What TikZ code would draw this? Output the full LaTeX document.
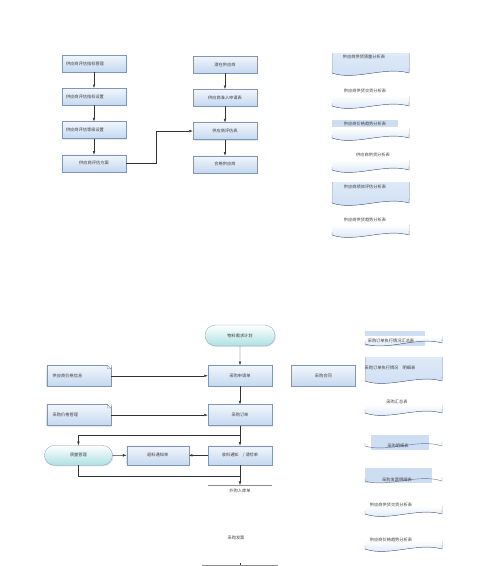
\documentclass[tikz,border=0pt]{standalone}
\usepackage{fontspec}
\newfontfamily\cjk{Noto Sans CJK SC}
\usetikzlibrary{arrows.meta, chains, positioning, shapes.misc, shadows}
\definecolor{boxtop}{RGB}{242,246,252}
\definecolor{boxbot}{RGB}{196,216,240}
\definecolor{boxline}{RGB}{128,150,185}
\definecolor{tealbot}{RGB}{172,224,226}
\definecolor{rptfill}{RGB}{205,222,243}
\definecolor{wavecol}{RGB}{105,120,158}

\begin{document}
\begin{tikzpicture}[x=0.5mm, y=-0.5mm, node distance = 8mm and 9.5mm,
	font=\cjk\fontsize{6}{7}\selectfont, text=black!75,
	box/.style = {rectangle, draw=boxline, top color=boxtop, bottom color=boxbot,
		minimum width=32mm, minimum height=8.5mm, inner sep=1mm, line width=0.4pt,
		drop shadow={shadow xshift=0.5mm, shadow yshift=-0.5mm, opacity=0.2}},
	stagebox/.style = {box, on chain},
	leftbox/.style = {text width=28mm, align=left},
	term/.style = {box, rounded rectangle, top color=white, bottom color=tealbot},
	doc/.style = {box, text width=26mm, align=left},
	fold/.style = {draw=boxline, line width=0.4pt},
	conn/.style = {-{Latex[length=1.8mm, width=1.3mm]}, draw=black!80, line width=0.6pt},
	link/.style = {draw=black!80, line width=0.6pt},
	rpt/.style = {top color=white, bottom color=rptfill},
	rptstrong/.style = {top color=rptfill!65, bottom color=rptfill},
	band/.style = {fill=rptfill},
	wave/.style = {draw=wavecol, line width=0.6pt},
	side/.style = {draw=boxline!50, line width=0.3pt},
	rpttxt/.style = {inner sep=0}]

\useasboundingbox (0,0) rectangle (500,566);

% supplier evaluation
\begin{scope}[start chain = L going below, every node/.style={stagebox}]
\node[leftbox] at (94,63.5) {供应商评估指标管理};   % L-1
\node[leftbox] {供应商评估指标设置};
\node[leftbox] {供应商评估等级设置};
\node {供应商评估方案};
\end{scope}
\begin{scope}[start chain = M going below, every node/.style={stagebox}]
\node at (225,64.5) {潜在供应商};          % M-1
\node {供应商准入申请表};
\node {供应商评估表};
\node {合格供应商};
\end{scope}
	% arrows between nodes
	\draw[conn] (L-1) -- (L-2);
	\draw[conn] (L-2) -- (L-3);
	\draw[conn] (L-3) -- (L-4);
	\draw[conn] (M-1) -- (M-2);
	\draw[conn] (M-2) -- (M-3);
	\draw[conn] (M-3) -- (M-4);
	\draw[conn] (L-4.east) -- ++(15mm,0) |- (M-3.west);

% supplier reports
\fill[rptstrong] (332,53) -- (332,73) .. controls (355,81) and (385,66) .. (409,73) -- (409,53) -- cycle;
\draw[side] (332,53) -- (332,70) (409,53) -- (409,70);
\draw[wave] (332,70) -- (332,73) .. controls (355,81) and (385,66) .. (409,73) -- (409,69);
\node[rpttxt] (r1) at (364,57) {供应商供货质量分析表};

\fill[rpt] (332,96) -- (332,106) .. controls (355,114) and (385,99) .. (409,106) -- (409,96) -- cycle;
\draw[wave] (332,103) -- (332,106) .. controls (355,114) and (385,99) .. (409,106) -- (409,102);
\node[rpttxt] (r2) at (365,91) {供应商供货交货分析表};

\fill[band] (332,120) rectangle (398,127);
\fill[rpt] (332,128) -- (332,138) .. controls (355,146) and (385,131) .. (409,138) -- (409,128) -- cycle;
\draw[wave] (332,135) -- (332,138) .. controls (355,146) and (385,131) .. (409,138) -- (409,134);
\node[rpttxt] (r3) at (365,123.5) {供应商价格趋势分析表};

\fill[rpt] (332,160) -- (332,170) .. controls (355,178) and (385,163) .. (409,170) -- (409,160) -- cycle;
\draw[wave] (332,167) -- (332,170) .. controls (355,178) and (385,163) .. (409,170) -- (409,166);
\node[rpttxt] (r4) at (373,155) {供应商供货分析表};

\fill[rptstrong] (332,182) -- (332,203) .. controls (355,211) and (385,196) .. (409,203) -- (409,182) -- cycle;
\draw[side] (332,182) -- (332,200) (409,182) -- (409,200);
\draw[wave] (332,200) -- (332,203) .. controls (355,211) and (385,196) .. (409,203) -- (409,199);
\node[rpttxt] (r5) at (365,187) {供应商绩效评估分析表};

\fill[rpt] (332,225) -- (332,235) .. controls (355,243) and (385,228) .. (409,235) -- (409,225) -- cycle;
\draw[wave] (332,232) -- (332,235) .. controls (355,243) and (385,228) .. (409,235) -- (409,231);
\node[rpttxt] (r6) at (365,220) {供应商供货趋势分析表};

% purchasing flow
\node[term, minimum width=37mm, minimum height=10.5mm] (need) at (240,335.5) {物料需求计划};
\node[box, minimum height=10.5mm, below=9.5mm of need] (apply) {采购申请单};
\node[box, minimum height=10.5mm, right=9.5mm of apply] (contract) {采购合同};
\node[box, minimum height=10.5mm, below=9mm of apply] (order) {采购订单};
\node[doc, minimum height=10.5mm, left=48.5mm of apply] (priceinfo) {供应商价格信息};
\node[doc, minimum height=10.5mm, left=48.5mm of order] (pricemgmt) {采购价格管理};
\node[box, minimum height=9.5mm, below=10mm of order] (receive) {收料通知\quad / 请检单};
\node[box, minimum width=31mm, minimum height=9.5mm, left=9.5mm of receive] (returnn) {退料通知单};
\node[term, minimum width=36mm, minimum height=10mm, left=7mm of returnn] (quality) {质量管理};
\node[minimum width=32mm, inner xsep=0, inner ysep=2mm, anchor=north] (stockin) at (240,485) {外购入库单};
\node (invoice) at (236,538) {采购发票};
\node[minimum width=38mm, inner sep=0] (invbase) at (240,565) {};

	% folded corners
	\fill[white] ([xshift=-1.8mm]priceinfo.north east) -- ([shift={(0.5mm,0.5mm)}]priceinfo.north east) -- ([yshift=-1.8mm]priceinfo.north east) -- cycle;
	\draw[fold] ([xshift=-1.8mm]priceinfo.north east) |- ([yshift=-1.8mm]priceinfo.north east) -- cycle;
	\fill[white] ([xshift=-1.8mm]pricemgmt.north east) -- ([shift={(0.5mm,0.5mm)}]pricemgmt.north east) -- ([yshift=-1.8mm]pricemgmt.north east) -- cycle;
	\draw[fold] ([xshift=-1.8mm]pricemgmt.north east) |- ([yshift=-1.8mm]pricemgmt.north east) -- cycle;

	% connections
	\draw[conn] (need) -- (apply);
	\draw[conn] (priceinfo) -- (apply);
	\draw[conn] (apply) -- (order);
	\draw[conn] (pricemgmt) -- (order);
	\draw[conn] (order) -- (receive);
	\draw[conn] (order.south) -- ++(0,-5mm) -| (quality.north);
	\draw[conn] (receive) -- (returnn);
	\draw[conn] (quality) -- (returnn);
	\draw[link] (quality.south) -- ++(0,-5.5mm) -| (receive.south);
	\draw[conn] (receive.south) -- (stockin.north);
	\draw[link, draw=black!45] (stockin.north west) -- (stockin.north east);
	\draw[link, draw=black!45] (invbase.west) -- (invbase.east);
	\draw[link] (invbase.center) -- ++(0,0.8mm);

% purchasing reports
\fill[band] (365,331) rectangle (425,346);
\fill[rpt] (365,336) -- (365,344) .. controls (388,351) and (418,336) .. (442,343) -- (442,336) -- cycle;
\draw[wave] (365,341) -- (365,344) .. controls (388,351) and (418,336) .. (442,343) -- (442,339);
\node[rpttxt] (p1) at (391,340.5) {采购订单执行情况汇总表};

\fill[rptstrong] (365,357) -- (365,381) .. controls (388,389) and (418,374) .. (442,381) -- (442,357) -- cycle;
\draw[side] (365,357) -- (365,378) (442,357) -- (442,378);
\draw[wave] (365,378) -- (365,381) .. controls (388,389) and (418,374) .. (442,381) -- (442,377);
\node[rpttxt] (p2) at (390,368) {采购订单执行情况\quad 明细表};

\fill[rpt] (365,405) -- (365,413) .. controls (388,421) and (418,406) .. (442,413) -- (442,405) -- cycle;
\draw[wave] (365,410) -- (365,413) .. controls (388,421) and (418,406) .. (442,413) -- (442,409);
\node[rpttxt] (p3) at (397,402) {采购汇总表};

\fill[band] (371,435) rectangle (429,450);
\draw[wave] (365,443) -- (365,446) .. controls (388,453) and (418,438) .. (442,446) -- (442,442);
\node[rpttxt] (p4) at (398,446) {采购明细表};

\fill[band] (365,468) rectangle (432,483);
\draw[wave] (365,478) -- (365,481) .. controls (388,488) and (418,473) .. (442,481) -- (442,477);
\node[rpttxt] (p5) at (397,479.5) {采购发票明细表};

\fill[rpt] (365,506) -- (365,514) .. controls (388,522) and (418,507) .. (442,514) -- (442,506) -- cycle;
\draw[wave] (365,511) -- (365,514) .. controls (388,522) and (418,507) .. (442,514) -- (442,510);
\node[rpttxt] (p6) at (391,505) {供应商供货交货分析表};

\fill[rpt] (365,541) -- (365,549) .. controls (388,557) and (418,542) .. (442,549) -- (442,541) -- cycle;
\draw[wave] (365,546) -- (365,549) .. controls (388,557) and (418,542) .. (442,549) -- (442,545);
\node[rpttxt] (p7) at (391,540) {供应商价格趋势分析表};

\end{tikzpicture}
\end{document}
